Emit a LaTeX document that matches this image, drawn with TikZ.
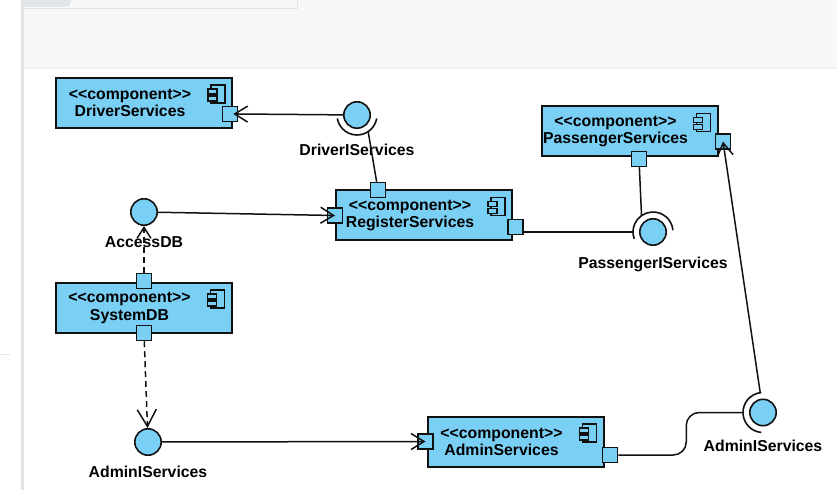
\documentclass[tikz,border=0pt]{standalone}
\usepackage{fontspec}
\setmainfont{Liberation Sans}
\usepackage{xcolor}
\definecolor{ink}{HTML}{111111}
\definecolor{compblue}{HTML}{7ACFF5}
\definecolor{panelgrey}{HTML}{F7F8FA}
\definecolor{chrome}{HTML}{E2E5E9}
\usepackage{tikz}
\usetikzlibrary{calc,arrows.meta,positioning}

\begin{document}
\begin{tikzpicture}[x=1pt, y=1pt, >={Straight Barb[length=13pt,width=16pt]},
    comp/.style={draw=ink, line width=2pt, fill=compblue, minimum width=176pt, minimum height=50pt, inner sep=0pt},
    comptext/.style={align=center, xshift=-14pt, font=\fontsize{15.8}{17.5}\selectfont\bfseries},
    port/.style={draw=ink, line width=1.5pt, fill=compblue, minimum size=15pt, inner sep=0pt},
    ball/.style={circle, draw=ink, line width=1.6pt, fill=compblue, minimum size=26.4pt, inner sep=0pt},
    socket/.style={draw=ink, line width=1.6pt},
    lbl/.style={font=\fontsize{15.8}{17.5}\selectfont\bfseries, text height=12pt, text depth=3pt, inner sep=0pt},
    wire/.style={draw=ink, line width=1.5pt},
    dep/.style={wire, dash pattern=on 6pt off 4pt},
    compicon/.pic={
        \draw[ink, line width=1.2pt, fill=compblue] (-22,-8) rectangle (-8,-26);
        \draw[ink, line width=1.2pt, fill=compblue] (-25,-12) rectangle (-16,-17);
        \draw[ink, line width=1.2pt, fill=compblue] (-25,-19) rectangle (-16,-24);
    }]
    \useasboundingbox (0,0) rectangle (837,490);

    % window chrome behind the diagram
    \fill[white] (0,0) rectangle (837,490);
    \fill[panelgrey] (21,422) rectangle (837,490);
    \draw[gray!12, line width=1.2pt] (21,422) -- (837,422);
    \draw[gray!20, line width=1pt, fill=panelgrey] (21,481) -- (297,481) -- (297,491);
    \fill[chrome] (21,490) -- (21,483) -- (66,483) arc[start angle=270, end angle=360, radius=5] -- (71,490) -- cycle;
    \draw[gray!22, line width=3pt] (22.5,0) -- (22.5,490);
    \draw[gray!20, line width=1pt] (0,136) -- (10,136);

    % components
    \node[comp, label={[comptext]center:{<{}<component>{}>\\DriverServices}}] (drv) at (144,387) {};
    \node[comp, label={[comptext]center:{<{}<component>{}>\\RegisterServices}}] (reg) at (424,274.5) {};
    \node[comp, label={[comptext]center:{<{}<component>{}>\\PassengerServices}}] (pas) at (629.5,358.5) {};
    \node[comp, label={[comptext]center:{<{}<component>{}>\\SystemDB}}] (sys) at (143.5,182) {};
    \node[comp, label={[comptext]center:{<{}<component>{}>\\AdminServices}}] (adm) at (515.5,48) {};
    \foreach \c in {drv,reg,pas,sys,adm}
        \pic at (\c.north east) {compicon};

    % ports
    \node[port] (drvP) at (230,376) {};
    \node[port] (regT) at (378,300) {};
    \node[port] (regL) at (335,274.5) {};
    \node[port] (regR) at (515.5,263) {};
    \node[port] (pasB) at (639,331) {};
    \node[port] (pasR) at (723,348.5) {};
    \node[port] (sysT) at (144,209) {};
    \node[port] (sysB) at (144,157) {};
    \node[port] (admL) at (425.5,48.5) {};
    \node[port] (admR) at (610,35) {};

    % provided interfaces
    \node[ball] (drvI) at (357,375) {};
    \node[ball] (acc) at (144,278) {};
    \node[ball] (pasI) at (653,258) {};
    \node[ball] (admIa) at (148,48) {};
    \node[ball] (admIb) at (763,77.5) {};

    \node[lbl, below=14pt of drvI] (drvIL) {DriverIServices};
    \node[lbl, below=9pt of acc] (accL) {AccessDB};
    \node[lbl, below=10pt of pasI] (pasIL) {PassengerIServices};
    \node[lbl, below=9.5pt of admIa] (admIaL) {AdminIServices};
    \node[lbl, below=13pt of admIb] (admIbL) {AdminIServices};

    % required interfaces (sockets)
    \draw[socket] ($(drvI)+(190:20)$) arc (190:350:20);
    \draw[socket] ($(pasI)+(5:20)$) arc (5:200:20);
    \draw[socket] ($(admIb)+(95:20)$) arc (95:265:20);
    \coordinate (drvS) at ($(drvI)+(-56:20)$);
    \coordinate (pasSt) at ($(pasI)+(125:20)$);
    \coordinate (pasSl) at ($(pasI)+(180:20)$);
    \coordinate (admSt) at ($(admIb)+(98:20)$);
    \coordinate (admSl) at ($(admIb)+(180:20)$);

    % connectors
    \draw[wire, ->, shorten >=-5pt] (drvI) -- (drvP.east);
    \draw[wire, ->] (acc) -- (regL.center);
    \draw[wire] (regT) -- (drvS);
    \draw[wire] (regR.east |- pasSl) -- (pasSl);
    \draw[wire] (pasB) -- (pasSt);
    \draw[wire, ->] (admSt) -- (pasR.center);
    \draw[dep, -{Straight Barb[length=11pt,width=14pt]}] (sysT) -- (acc);
    \draw[dep, -{Straight Barb[length=17pt,width=19pt]}] (sysB) -- (admIa);
    \draw[wire, ->] (admIa) -- (admL.center);
    \draw[wire, rounded corners=13pt] (admR.east) -- ++(68,0) |- (admSl);
\end{tikzpicture}
\end{document}
